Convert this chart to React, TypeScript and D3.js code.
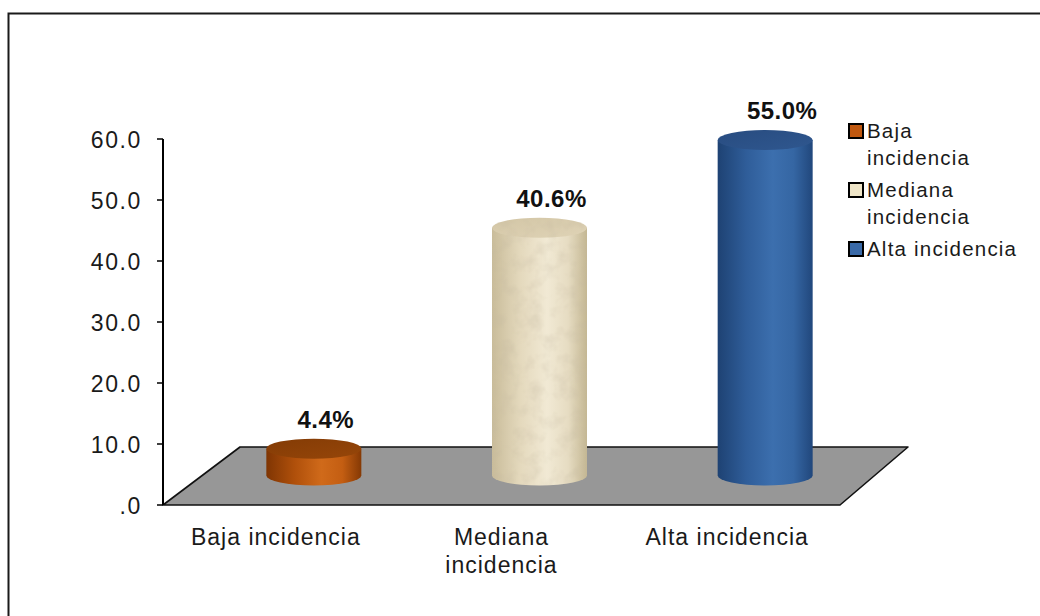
import React from "react";
import * as d3 from "d3";

// Chart data
const categories = ["Baja incidencia", "Mediana incidencia", "Alta incidencia"];
const values = [4.4, 40.6, 55.0];
const valueLabels = ["4.4%", "40.6%", "55.0%"];
const axisLabelLines = [["Baja incidencia"], ["Mediana", "incidencia"], ["Alta incidencia"]];
const legendLines = [["Baja", "incidencia"], ["Mediana", "incidencia"], ["Alta incidencia"]];
const yTicks = [0, 10, 20, 30, 40, 50, 60];

const W = 1040;
const H = 616;
const FONT = "'Liberation Sans', Arial, sans-serif";

// Per-series cylinder palette: body gradient stops, top cap, legend swatch
const palettes = [
  { body: ["#7f3503", "#b0500b", "#d06a1a", "#c45e12", "#853904"], top: ["#833b05", "#964609"], swatch: "#c0580f" },
  { body: ["#c9bc9a", "#e4d9bd", "#f1e9d4", "#e6dcc2", "#c4b793"], top: ["#d3c6a6", "#dfd3b6"], swatch: "#efe5c8" },
  { body: ["#1e4273", "#2f5d99", "#3c6fae", "#3566a3", "#21477c"], top: ["#284c80", "#2f578f"], swatch: "#3a6aa8" },
];

export default function App() {
  const x = d3.scaleBand<string>().domain(categories).range([163, 840]).padding(0);
  const y = d3.scaleLinear().domain([0, 60]).range([505, 139]);

  // floor depth (back edge offset)
  const depthLeftX = 77;
  const depthRightX = 68;
  const depthY = 58;
  const [x0, x1] = x.range();
  const floor = [
    [x0, y(0)],
    [x0 + depthLeftX, y(0) - depthY],
    [x1 + depthRightX, y(0) - depthY],
    [x1, y(0)],
  ];

  const rx = 47.5;
  const ry = 10;
  const barDX = 38;
  const barDY = 29.5;

  return (
    <svg
      width={W}
      height={H}
      style={{ position: "absolute", left: 0, top: 0, background: "#fff" }}
      fontFamily={FONT}
    >
      <defs>
        {palettes.map((p, i) => (
          <React.Fragment key={i}>
            <linearGradient id={`body${i}`} x1="0" x2="1" y1="0" y2="0">
              {p.body.map((c, j) => (
                <stop key={j} offset={`${[0, 0.3, 0.58, 0.8, 1][j] * 100}%`} stopColor={c} />
              ))}
            </linearGradient>
            <linearGradient id={`top${i}`} x1="0" x2="1" y1="0" y2="1">
              <stop offset="0%" stopColor={p.top[0]} />
              <stop offset="100%" stopColor={p.top[1]} />
            </linearGradient>
          </React.Fragment>
        ))}
        <filter id="paper" x="0" y="0" width="100%" height="100%">
          <feTurbulence type="fractalNoise" baseFrequency="0.07" numOctaves="3" seed="4" result="noise" />
          <feColorMatrix
            in="noise"
            type="matrix"
            values="0 0 0 0 0.55  0 0 0 0 0.48  0 0 0 0 0.35  0.7 0 0 0 -0.3"
            result="spots"
          />
          <feComposite in="spots" in2="SourceGraphic" operator="in" result="clipped" />
          <feMerge>
            <feMergeNode in="SourceGraphic" />
            <feMergeNode in="clipped" />
          </feMerge>
        </filter>
      </defs>

      {/* outer frame */}
      <path d={`M8.5,${H} V13.5 H${W}`} fill="none" stroke="#1a1a1a" strokeWidth={2} />

      {/* floor */}
      <polygon
        points={floor.map((p) => p.join(",")).join(" ")}
        fill="#979797"
        stroke="#111"
        strokeWidth={1.6}
        strokeLinejoin="round"
      />

      {/* y axis */}
      <line x1={x0} x2={x0} y1={y(60)} y2={y(0)} stroke="#000" strokeWidth={2} />
      {yTicks.map((t) => (
        <g key={t}>
          <line x1={x0 - 6} x2={x0} y1={y(t)} y2={y(t)} stroke="#000" strokeWidth={1.5} />
          <text
            x={142}
            y={y(t) + 8.5}
            textAnchor="end"
            fontSize={23}
            letterSpacing={1.6}
            fill="#1a1a1a"
          >
            {t === 0 ? ".0" : t.toFixed(1)}
          </text>
        </g>
      ))}

      {/* cylinders */}
      {categories.map((c, i) => {
        const cx = (x(c) ?? 0) + x.bandwidth() / 2 + barDX;
        const yb = y(0) - barDY;
        const yt = y(values[i]) - barDY;
        const body = `M${cx - rx},${yt} L${cx - rx},${yb} A${rx},${ry} 0 0 0 ${cx + rx},${yb} L${cx + rx},${yt} Z`;
        const filt = i === 1 ? "url(#paper)" : undefined;
        return (
          <g key={c}>
            <path d={body} fill={`url(#body${i})`} filter={filt} />
            <ellipse cx={cx} cy={yt} rx={rx} ry={ry} fill={`url(#top${i})`} filter={filt} />
            <text
              x={cx + 12 + (i === 2 ? 5 : 0)}
              y={yt - ry - 11}
              textAnchor="middle"
              fontSize={24}
              fontWeight="bold"
              letterSpacing={0.5}
              fill="#111"
            >
              {valueLabels[i]}
            </text>
          </g>
        );
      })}

      {/* category labels */}
      {categories.map((c, i) => (
        <text
          key={c}
          x={(x(c) ?? 0) + x.bandwidth() / 2}
          y={545}
          textAnchor="middle"
          fontSize={23}
          letterSpacing={1}
          fill="#1a1a1a"
        >
          {axisLabelLines[i].map((line, k) => (
            <tspan key={k} x={(x(c) ?? 0) + x.bandwidth() / 2} dy={k === 0 ? 0 : 28}>
              {line}
            </tspan>
          ))}
        </text>
      ))}

      {/* legend */}
      {(() => {
        let baseline = 138;
        return categories.map((c, i) => {
          const b = baseline;
          baseline += legendLines[i].length * 27 + 5;
          return (
            <g key={c}>
              <rect x={849} y={b - 14} width={14} height={14} fill={palettes[i].swatch} stroke="#000" strokeWidth={2} />
              <text x={867} y={b} fontSize={20.5} letterSpacing={1.2} fill="#1a1a1a">
                {legendLines[i].map((line, k) => (
                  <tspan key={k} x={867} dy={k === 0 ? 0 : 27}>
                    {line}
                  </tspan>
                ))}
              </text>
            </g>
          );
        });
      })()}
    </svg>
  );
}
